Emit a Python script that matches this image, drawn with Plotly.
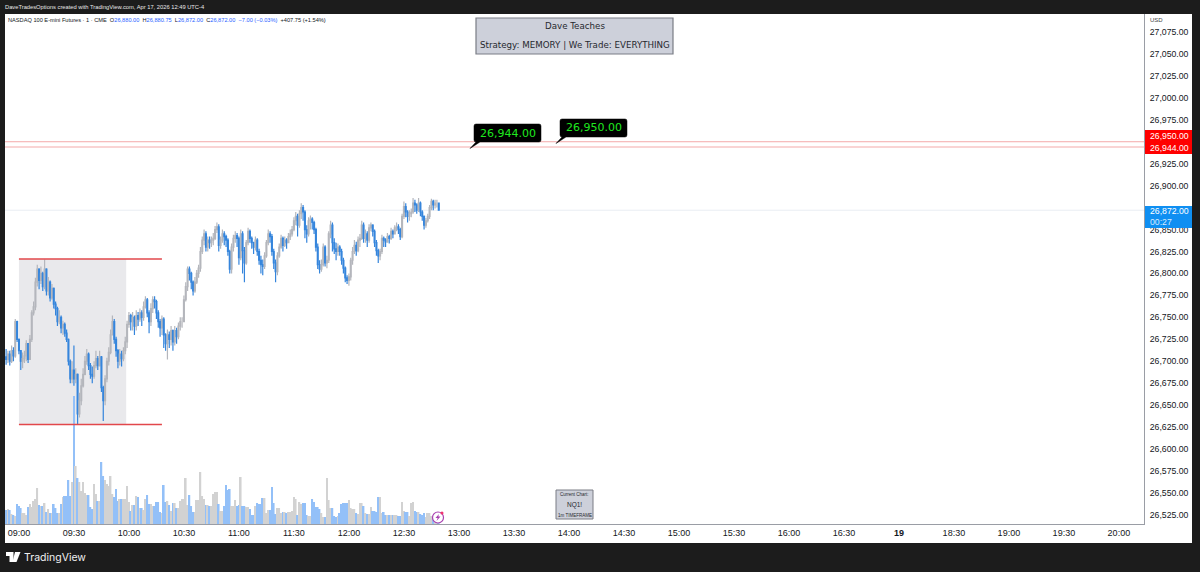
import plotly.graph_objects as go

START_MINUTE = 532  # 08:52
closes = [
26705,26702,26708,26700,26712,26706,26745,26725,26712,26700,
26703,26706,26720,26702,26725,26755,26762,26790,26805,26792,
26800,26785,26805,26780,26790,26772,26783,26765,26760,26745,
26750,26738,26742,26732,26725,26700,26680,26690,26680,26685,
26640,26655,26672,26685,26700,26708,26695,26685,26683,26695,
26703,26695,26705,26670,26655,26680,26700,26710,26730,26745,
26725,26712,26700,26708,26703,26712,26722,26742,26752,26745,
26750,26740,26752,26748,26755,26750,26762,26770,26755,26745,
26760,26770,26768,26755,26745,26738,26748,26730,26720,26730,
26725,26735,26722,26735,26728,26740,26745,26745,26770,26785,
26805,26800,26790,26780,26790,26800,26806,26825,26838,26845,
26830,26838,26835,26838,26840,26850,26853,26832,26838,26845,
26842,26838,26825,26805,26830,26840,26843,26840,26818,26845,
26826,26812,26835,26848,26840,26835,26830,26838,26825,26815,
26810,26808,26820,26835,26845,26842,26825,26812,26802,26820,
26830,26840,26832,26838,26835,26842,26845,26850,26860,26865,
26855,26868,26875,26870,26850,26845,26860,26862,26858,26850,
26830,26810,26805,26810,26830,26812,26815,26845,26855,26835,
26828,26825,26830,26825,26815,26806,26795,26792,26796,26815,
26825,26832,26826,26838,26840,26855,26840,26845,26838,26852,
26855,26848,26835,26826,26820,26825,26840,26838,26836,26842,
26840,26848,26845,26852,26853,26850,26842,26865,26876,26870,
26865,26868,26870,26880,26878,26872,26880,26870,26865,26855,
26860,26865,26875,26882,26878,26880,26880,26872]
highs = [
26712,26714,26712,26712,26718,26716,26748,26746,26726,26712,
26710,26712,26724,26720,26730,26758,26768,26795,26810,26806,
26808,26802,26816,26806,26796,26792,26788,26784,26768,26762,
26758,26752,26746,26744,26736,26726,26702,26700,26718,26692,
26686,26664,26680,26692,26706,26714,26710,26698,26694,26700,
26712,26706,26712,26706,26672,26684,26704,26716,26736,26752,
26748,26728,26714,26714,26712,26716,26728,26746,26756,26754,
26756,26752,26758,26756,26760,26758,26768,26774,26772,26758,
26766,26774,26774,26770,26758,26748,26752,26750,26732,26736,
26734,26740,26736,26740,26738,26744,26750,26750,26775,26790,
26808,26808,26802,26792,26796,26804,26810,26830,26842,26850,
26848,26842,26842,26842,26846,26854,26858,26856,26842,26850,
26848,26844,26840,26827,26834,26844,26848,26846,26842,26850,
26848,26830,26838,26852,26850,26842,26836,26842,26840,26828,
26820,26816,26824,26838,26850,26848,26845,26828,26816,26824,
26834,26844,26842,26842,26840,26846,26850,26854,26864,26870,
26868,26872,26880,26878,26872,26855,26864,26866,26864,26860,
26852,26834,26815,26816,26834,26832,26820,26848,26860,26858,
26840,26835,26834,26832,26828,26818,26808,26798,26800,26818,
26830,26838,26836,26842,26845,26860,26858,26850,26848,26856,
26858,26856,26850,26838,26828,26828,26844,26842,26840,26846,
26844,26852,26850,26855,26858,26856,26852,26868,26882,26880,
26872,26872,26874,26886,26884,26880,26886,26882,26872,26866,
26863,26868,26878,26885,26884,26884,26884,26880.75]
lows = [
26695,26696,26698,26695,26698,26700,26704,26722,26708,26690,
26692,26698,26700,26698,26702,26722,26752,26758,26785,26782,
26788,26780,26782,26775,26775,26768,26770,26760,26752,26740,
26742,26732,26730,26728,26722,26695,26675,26675,26672,26675,
26628,26636,26650,26670,26684,26696,26690,26680,26675,26680,
26692,26690,26694,26665,26632,26650,26676,26695,26708,26730,
26720,26705,26692,26695,26694,26700,26708,26715,26738,26735,
26735,26730,26735,26740,26745,26740,26746,26760,26750,26732,
26740,26755,26760,26748,26738,26728,26730,26715,26712,26702,
26715,26718,26712,26718,26720,26725,26735,26738,26745,26768,
26780,26792,26782,26775,26778,26788,26795,26802,26822,26832,
26825,26825,26828,26830,26832,26838,26846,26825,26828,26835,
26832,26830,26820,26800,26800,26825,26835,26830,26810,26815,
26800,26790,26810,26832,26835,26828,26822,26826,26820,26810,
26800,26798,26805,26818,26832,26835,26820,26805,26790,26798,
26818,26828,26825,26830,26828,26835,26838,26842,26848,26855,
26842,26852,26862,26860,26840,26835,26842,26850,26850,26845,
26825,26805,26800,26802,26808,26808,26806,26812,26840,26825,
26822,26815,26820,26820,26810,26800,26790,26788,26786,26792,
26810,26822,26820,26824,26830,26838,26835,26835,26830,26835,
26848,26842,26830,26820,26812,26815,26822,26830,26830,26835,
26834,26838,26840,26845,26848,26845,26838,26840,26862,26864,
26858,26860,26864,26868,26870,26868,26870,26865,26860,26850,
26852,26858,26862,26872,26872,26874,26875,26872]
volumes = [
15,14,15,14,10,9,8,20,18,16,
11,11,9,17,20,17,23,25,36,19,
18,18,21,12,15,11,11,20,16,11,
11,20,27,28,28,44,28,42,128,58,
46,42,33,42,31,29,29,17,15,40,
30,23,23,62,48,44,40,38,48,30,
27,35,23,25,25,25,25,38,22,13,
19,19,28,27,16,16,14,25,29,20,
20,18,18,22,22,12,11,39,22,23,
19,13,21,21,16,16,23,25,25,46,
19,29,18,12,12,24,24,52,28,25,
19,19,18,18,30,32,32,20,13,13,
18,39,34,35,18,18,24,18,19,47,
18,18,17,17,15,9,9,18,21,20,
20,26,26,11,14,14,37,21,10,16,
16,11,12,12,11,12,12,13,27,25,
9,22,20,21,21,9,8,8,25,22,
17,17,15,11,7,7,46,24,16,16,
8,7,8,11,20,21,21,21,24,16,
15,15,11,10,21,21,18,11,10,10,
17,13,13,12,27,27,11,12,9,9,
9,9,9,9,9,8,8,22,13,12,
12,8,21,22,13,12,12,10,9,11,
7,11,11,8,7,9,8,6]
price_ticks = [26525,26550,26575,26600,26625,26650,26675,26700,26725,26750,26775,26800,26825,26850,
               26900,26925,26975,27000,27025,27050,27075]
time_ticks = [540,570,600,630,660,690,720,750,780,810,840,870,900,930,960,990,1020,1050,1080,1110,1140]
time_labels = ["09:00","09:30","10:00","10:30","11:00","11:30","12:00","12:30","13:00","13:30","14:00","14:30",
               "15:00","15:30","16:00","16:30","<b>19</b>","18:30","19:00","19:30","20:00"]
levels = [26950, 26944]
last_price = 26872
range_high, range_low = 26816.5, 26628
box_start, box_end, line_end = 540, 598.5, 618

minutes = [START_MINUTE + i for i in range(len(closes))]
opens = [closes[0]] + closes[:-1]
GRAY, BLUE = "#b4b6bc", "#3585dc"
vol_colors = ["#d2d2d2" if c >= o else "#93c0f8" for o, c in zip(opens, closes)]

L, R, T, B = 5, 1144, 14, 524
X = lambda p: (p - L) / (R - L)
Y = lambda p: 1 - (p - T) / (B - T)
FONT = "Liberation Sans"
INK = "#131722"

fig = go.Figure()
fig.add_trace(go.Bar(x=minutes, y=volumes, marker=dict(color=vol_colors, line_width=0), yaxis="y", hoverinfo="skip"))
fig.add_trace(go.Candlestick(x=minutes, open=opens, high=highs, low=lows, close=closes, yaxis="y2", whiskerwidth=0,
    increasing=dict(line=dict(color=GRAY, width=1.2), fillcolor=GRAY),
    decreasing=dict(line=dict(color=BLUE, width=1.2), fillcolor=BLUE)))

def prect(x0, y0, x1, y1, fill, line=None, lw=1, layer="above"):
    return dict(type="rect", xref="paper", yref="paper", x0=X(x0), x1=X(x1), y0=Y(y0), y1=Y(y1), fillcolor=fill,
                line=dict(color=line or fill, width=lw if line else 0), layer=layer)

def ppath(points, fill, line=None, lw=1):
    d = ""
    for cmd, *xy in points:
        d += cmd + " ".join(f"{(X(xy[i]) if i % 2 == 0 else Y(xy[i])):.5f}" for i in range(len(xy))) + " "
    return dict(type="path", xref="paper", yref="paper", path=d + "Z", fillcolor=fill,
                line=dict(color=line or fill, width=lw if line else 0), layer="above")

def callout(x0, y0, x1, y1, tipx, tipy):
    r = 2
    return ppath([("M", x0 + r, y0), ("L", x1 - r, y0), ("Q", x1, y0, x1, y0 + r), ("L", x1, y1 - r), ("Q", x1, y1, x1 - r, y1),
                  ("L", x0 + 6, y1), ("L", tipx, tipy), ("L", x0 + 2, y1), ("L", x0 + r, y1), ("Q", x0, y1, x0, y1 - r),
                  ("L", x0, y0 + r), ("Q", x0, y0, x0 + r, y0)], "#000000", "#000000", 0.5)

shapes = [
    prect(R, T, 1192, 543, "#ffffff", layer="below"),
    prect(L, B, 1192, 543, "#ffffff", layer="below"),
    dict(type="rect", xref="x", yref="y2", x0=box_start, x1=box_end, y0=range_low, y1=range_high,
         fillcolor="#e9e9ec", line_width=0, layer="below"),
    dict(type="line", xref="x", yref="y2", x0=box_start, x1=line_end, y0=range_high, y1=range_high,
         line=dict(color="#e2474b", width=1.5)),
    dict(type="line", xref="x", yref="y2", x0=box_start, x1=line_end, y0=range_low, y1=range_low,
         line=dict(color="#e2474b", width=1.5)),
    dict(type="line", xref="paper", yref="y2", x0=0, x1=1, y0=last_price, y1=last_price,
         line=dict(color="#e9edf3", width=1), layer="below"),
    prect(R + 1, 130, 1192, 154, "#ff0000"),
    prect(R + 1, 206, 1192, 228, "#0f8ff2"),
    prect(476, 18, 673, 54, "#cdd0da", "#7a7d85", 1.2),
    prect(556, 490, 593, 519, "#cdd0da", "#7a7d85", 1),
    callout(474, 124, 541, 142, 470, 148.5),
    callout(560, 119, 627, 137, 556, 143.5),
    dict(type="circle", xref="paper", yref="paper", x0=X(432.5), x1=X(443.5), y0=Y(512), y1=Y(523), fillcolor="#ffffff",
         line=dict(color="#a83fb0", width=1.2), layer="above"),
    ppath([("M", 439, 514), ("L", 435.5, 518), ("L", 437.7, 518), ("L", 436.5, 521), ("L", 440.5, 516.6), ("L", 438.3, 516.6)], "#a83fb0"),
    dict(type="circle", xref="paper", yref="paper", x0=X(440.5), x1=X(443.5), y0=Y(511.5), y1=Y(514.5), fillcolor="#f0346e",
         line_width=0, layer="above"),
    ppath([("M", 6, 552), ("L", 13.5, 552), ("L", 13.5, 562), ("L", 9.5, 562), ("L", 9.5, 556), ("L", 6, 556)], "#ffffff"),
    ppath([("M", 15, 552), ("L", 20.5, 552), ("L", 16.5, 562), ("L", 12.5, 562)], "#ffffff"),
]
for lv in levels:
    shapes.append(dict(type="line", xref="paper", yref="y2", x0=0, x1=1, y0=lv, y1=lv,
                       line=dict(color="#f4a9a9", width=1), layer="below"))

def text(px, py, s, size, color=INK, anchor="center", font=FONT):
    return dict(xref="paper", yref="paper", x=X(px), y=Y(py), text=s, showarrow=False, xanchor=anchor, yanchor="middle",
                font=dict(family=font, size=size, color=color), align=anchor, borderpad=0, borderwidth=0)

BL = "#2962ff"
legend_text = (f"NASDAQ 100 E-mini Futures · 1 · CME  O<span style='color:{BL}'>26,880.00</span>  H<span style='color:{BL}'>26,880.75</span>"
               f"  L<span style='color:{BL}'>26,872.00</span>  C<span style='color:{BL}'>26,872.00</span>  <span style='color:{BL}'>−7.00 (−0.03%)</span>  +407.75 (+1.54%)")
annotations = [
    text(5, 7, "DaveTradesOptions created with TradingView.com, Apr 17, 2026 12:49 UTC-4", 5.75, "#e8e8e8", "left"),
    text(8, 20, legend_text, 5.65, INK, "left"),
    text(1150, 20, "USD", 6, "#444444", "left"),
    text(574.5, 26, "Dave Teaches", 8.7, "#26282e", font="DejaVu Sans"),
    text(574.5, 45, "Strategy: MEMORY | We Trade: EVERYTHING", 8.7, "#26282e", font="DejaVu Sans"),
    text(507.5, 133, "26,944.00", 11, "#1fe81f", font="DejaVu Sans"),
    text(593.5, 127.5, "26,950.00", 11, "#1fe81f", font="DejaVu Sans"),
    text(574.5, 494, "Current Chart:", 4.5, "#26282e"),
    text(574.5, 505, "NQ1!", 6.5, "#26282e"),
    text(574.5, 515, "1m TIMEFRAME", 4.5, "#26282e"),
    text(1169, 136, "26,950.00", 8.7, "#ffffff"),
    text(1169, 148, "26,944.00", 8.7, "#ffffff"),
    text(1169, 211.5, "26,872.00", 8.7, "#ffffff"),
    text(1161, 222, "00:27", 8.7, "#d6ecff"),
    text(24, 557.5, "TradingView", 10.5, "#f0f0f0", "left", "Inter"),
]

fig.update_layout(
    width=1200, height=572, autosize=False, showlegend=False, barmode="overlay",
    paper_bgcolor="#1c1c1c", plot_bgcolor="#ffffff",
    margin=dict(l=L, r=1200 - R, t=T, b=572 - B, pad=0),
    font=dict(family=FONT, color=INK, size=9),
    shapes=shapes, annotations=annotations, bargap=0.12,
    xaxis=dict(range=[532.4, 1153.7], tickmode="array", tickvals=time_ticks, ticktext=time_labels, showgrid=False, zeroline=False,
               rangeslider=dict(visible=False), ticks="", showline=True, linecolor="#9a9da5", linewidth=1,
               tickfont=dict(size=9, color=INK), tickangle=0),
    yaxis=dict(range=[0, 510], visible=False, fixedrange=True),
    yaxis2=dict(range=[26514.6, 27095.5], overlaying="y", side="right", tickmode="array", tickvals=price_ticks,
                tickformat=",.2f", showgrid=False, zeroline=False, showline=True, linecolor="#9a9da5", linewidth=1,
                ticks="outside", ticklen=3, tickcolor="#ffffff", tickfont=dict(size=8.7, color=INK)),
)
fig.write_html("out.html", config=dict(displayModeBar=False),
               post_script="document.body.style.margin='0';document.body.style.overflow='hidden';")
